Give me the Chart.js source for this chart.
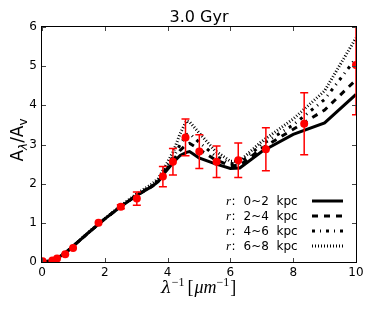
<!DOCTYPE html>
<html><head><meta charset="utf-8">
<script src="https://cdn.jsdelivr.net/npm/chart.js@4.4.0/dist/chart.umd.min.js"></script>
<style>html,body{margin:0;padding:0;background:#fff;} canvas{display:block;}</style>
</head><body>
<canvas id="c" width="374" height="312"></canvas>
<script>
// ---- data ----
const modelX = [0, 0.3, 0.5, 0.8, 1.0, 1.5, 2.0, 2.5, 3.0, 3.5, 3.7, 3.9, 4.2, 4.4, 4.6, 4.7, 5.0, 5.5, 6.0, 6.3, 7.0, 8.0, 9.0, 10.0];
const r02 = [0, 0.03, 0.1, 0.27, 0.41, 0.76, 1.1, 1.41, 1.69, 1.93, 2.05, 2.27, 2.56, 2.72, 2.8, 2.82, 2.66, 2.51, 2.39, 2.4, 2.82, 3.26, 3.55, 4.28];
const r24 = [0, 0.03, 0.1, 0.27, 0.41, 0.76, 1.1, 1.41, 1.69, 1.93, 2.06, 2.29, 2.62, 2.85, 3.0, 3.03, 2.88, 2.62, 2.46, 2.47, 2.9, 3.39, 3.88, 4.65];
const r46 = [0, 0.03, 0.1, 0.27, 0.41, 0.76, 1.1, 1.42, 1.70, 1.95, 2.08, 2.33, 2.7, 3.0, 3.25, 3.28, 3.06, 2.72, 2.51, 2.52, 3.0, 3.5, 4.15, 5.2];
const r68 = [0, 0.03, 0.1, 0.27, 0.41, 0.77, 1.11, 1.43, 1.73, 1.99, 2.13, 2.4, 2.85, 3.28, 3.6, 3.58, 3.3, 2.85, 2.57, 2.58, 3.08, 3.65, 4.37, 5.72];
const obsX = [0.02, 0.33, 0.48, 0.74, 0.99, 1.80, 2.51, 3.02, 3.85, 4.17, 4.57, 5.01, 5.56, 6.25, 7.13, 8.35, 10.0];
const obsY = [0.02, 0.04, 0.09, 0.2, 0.36, 1.0, 1.41, 1.62, 2.18, 2.56, 3.18, 2.82, 2.56, 2.60, 2.88, 3.53, 5.03];
const obsErr = [0, 0, 0, 0, 0, 0, 0.05, 0.17, 0.26, 0.34, 0.47, 0.43, 0.4, 0.44, 0.55, 0.79, 1.27];
const xTicks = [0, 2, 4, 6, 8, 10];
const yTicks = [0, 1, 2, 3, 4, 5, 6];
const seriesLabels = ['0~2', '2~4', '4~6', '6~8'];
const titleText = '3.0 Gyr';

// ---- styles ----
const dashes = [[], [6, 6], [3, 5, 1, 5], [1, 2]];
function pts(xs, ys) { return xs.map((x, i) => ({x: x, y: ys[i]})); }

function drawRuns(ctx, runs, x, y) {
  let cx = x;
  runs.forEach(r => {
    ctx.font = r.f;
    ctx.fillText(r.t, cx, y + (r.dy || 0));
    cx += ctx.measureText(r.t).width + (r.sp || 0);
  });
  return cx - x;
}
function runsWidth(ctx, runs) {
  let w = 0;
  runs.forEach(r => { ctx.font = r.f; w += ctx.measureText(r.t).width + (r.sp || 0); });
  return w;
}

const deco = {
  id: 'deco',
  beforeDatasetDraw(chart, args) {
    if (args.index !== 0) return;
    const ctx = chart.ctx, a = chart.chartArea, x = chart.scales.x, y = chart.scales.y;
    ctx.save();
    ctx.beginPath(); ctx.rect(a.left, a.top, a.right - a.left, a.bottom - a.top); ctx.clip();
    ctx.strokeStyle = '#ff0000'; ctx.lineWidth = 1.5;
    obsX.forEach((v, i) => {
      const e = obsErr[i]; if (!e) return;
      const px = x.getPixelForValue(v);
      const y1 = y.getPixelForValue(obsY[i] + e), y2 = y.getPixelForValue(obsY[i] - e);
      ctx.beginPath();
      ctx.moveTo(px, y1); ctx.lineTo(px, y2);
      ctx.moveTo(px - 4, y1); ctx.lineTo(px + 4, y1);
      ctx.moveTo(px - 4, y2); ctx.lineTo(px + 4, y2);
      ctx.stroke();
    });
    ctx.restore();
  },
  afterDraw(chart) {
    const ctx = chart.ctx, a = chart.chartArea, x = chart.scales.x, y = chart.scales.y;
    ctx.save();
    // ticks inward
    ctx.strokeStyle = '#444'; ctx.lineWidth = 1;
    ctx.beginPath();
    xTicks.forEach(v => {
      const px = Math.round(x.getPixelForValue(v)) + 0.5;
      ctx.moveTo(px, a.bottom); ctx.lineTo(px, a.bottom - 4);
      ctx.moveTo(px, a.top); ctx.lineTo(px, a.top + 4);
    });
    yTicks.forEach(v => {
      const py = Math.round(y.getPixelForValue(v)) + 0.5;
      ctx.moveTo(a.left, py); ctx.lineTo(a.left + 4, py);
      ctx.moveTo(a.right, py); ctx.lineTo(a.right - 4, py);
    });
    ctx.stroke();
    // frame
    ctx.strokeStyle = '#000'; ctx.lineWidth = 1;
    ctx.strokeRect(a.left - 0.5, a.top - 0.5, a.right - a.left + 1, a.bottom - a.top + 1);
    // title
    ctx.fillStyle = '#000';
    ctx.textAlign = 'center'; ctx.textBaseline = 'alphabetic';
    ctx.font = '16px "DejaVu Sans"';
    ctx.fillText(titleText, (a.left + a.right) / 2, 22);
    ctx.textAlign = 'left';
    // x label
    const xr = [
      {t: 'λ', f: 'italic 17px "DejaVu Serif"', sp: 0},
      {t: '−1', f: '12px "Liberation Serif"', dy: -7, sp: 3},
      {t: '[', f: '18px "Liberation Serif"', sp: 1},
      {t: 'μm', f: 'italic 18px "Liberation Serif"'},
      {t: '−1', f: '12px "Liberation Serif"', dy: -7, sp: 1},
      {t: ']', f: '18px "Liberation Serif"'}
    ];
    drawRuns(ctx, xr, 161, 293);
    // y label
    const yr = [
      {t: 'A', f: '17px "DejaVu Sans"'},
      {t: 'λ', f: 'italic 12px "DejaVu Sans"', dy: 4},
      {t: '/A', f: '17px "DejaVu Sans"'},
      {t: 'v', f: '12px "DejaVu Sans"', dy: 4}
    ];
    ctx.save();
    ctx.translate(23, 140); ctx.rotate(-Math.PI / 2);
    const yw = runsWidth(ctx, yr);
    drawRuns(ctx, yr, -yw / 2, 0);
    ctx.restore();
    // legend
    const rows = [201, 216, 231, 246];
    seriesLabels.forEach((lab, i) => {
      const cy = rows[i];
      ctx.fillStyle = '#000';
      ctx.font = 'italic 13px "Liberation Serif"';
      ctx.fillText('r', 226, cy + 4);
      ctx.font = '12px "DejaVu Sans"';
      ctx.fillText(':', 231.5, cy + 4);
      ctx.fillText(lab + '  kpc', 243.5, cy + 4);
      ctx.strokeStyle = '#000'; ctx.lineWidth = 3; ctx.lineCap = 'butt';
      ctx.setLineDash(dashes[i]);
      ctx.beginPath(); ctx.moveTo(312, cy); ctx.lineTo(343, cy); ctx.stroke();
      ctx.setLineDash([]);
    });
    ctx.restore();
  }
};

const modelSeries = [r02, r24, r46, r68];
const datasets = [{
  label: 'obs', data: pts(obsX, obsY), showLine: false,
  pointRadius: 4, pointHoverRadius: 4, pointBackgroundColor: '#ff0000', pointBorderWidth: 0,
  order: 0, clip: 0
}];
modelSeries.forEach((s, i) => {
  datasets.push({
    label: seriesLabels[i], data: pts(modelX, s), showLine: true,
    borderColor: '#000', borderWidth: 3, borderDash: dashes[i], pointRadius: 0,
    tension: 0, fill: false, order: i + 1, clip: 0
  });
});

new Chart(document.getElementById('c'), {
  type: 'scatter',
  data: {datasets: datasets},
  options: {
    responsive: false, animation: false, events: [],
    layout: {padding: {left: 0, top: 27, right: 18, bottom: 0}},
    plugins: {legend: {display: false}, title: {display: false}, tooltip: {enabled: false}},
    scales: {
      x: {
        type: 'linear', min: 0, max: 10,
        grid: {display: false, drawTicks: false}, border: {display: false},
        afterBuildTicks: s => { s.ticks = xTicks.map(v => ({value: v})); },
        ticks: {padding: 4, color: '#000', font: {family: 'DejaVu Sans', size: 12}, maxRotation: 0},
        afterFit: s => { s.height = 50; }
      },
      y: {
        type: 'linear', min: 0, max: 6,
        grid: {display: false, drawTicks: false}, border: {display: false},
        afterBuildTicks: s => { s.ticks = yTicks.map(v => ({value: v})); },
        ticks: {padding: 5, color: '#000', font: {family: 'DejaVu Sans', size: 12}},
        afterFit: s => { s.width = 42; }
      }
    }
  },
  plugins: [deco]
});
</script>
</body></html>
